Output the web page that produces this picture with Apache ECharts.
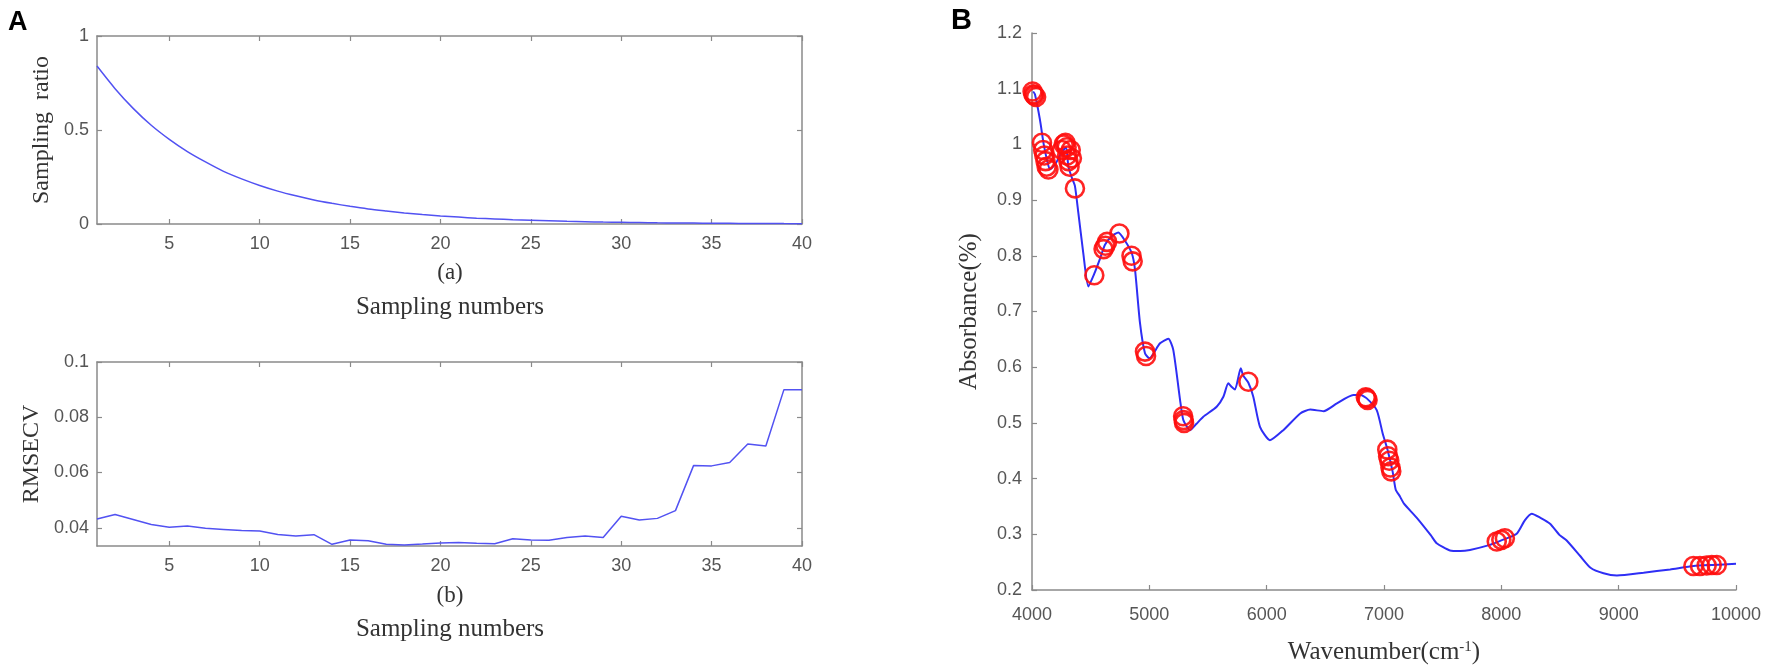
<!DOCTYPE html>
<html lang="en">
<head>
  <meta charset="UTF-8">
  <title>CARS sampling and selected wavenumbers</title>
  <style>
    html, body { margin: 0; padding: 0; background: #fff; }
    #main { width: 1772px; height: 672px; }
  </style>
  <script src="https://cdn.jsdelivr.net/npm/echarts@6/dist/echarts.min.js"></script>
</head>
<body>
<div id="main"></div>
<script>
  // panel A: sampling runs
  var samplingNumbers = [1, 2, 3, 4, 5, 6, 7, 8, 9, 10, 11, 12, 13, 14, 15, 16, 17, 18, 19, 20,
    21, 22, 23, 24, 25, 26, 27, 28, 29, 30, 31, 32, 33, 34, 35, 36, 37, 38, 39, 40];
  var samplingRatio = [0.84, 0.72, 0.615, 0.525, 0.45, 0.385, 0.33, 0.28, 0.24, 0.205,
    0.175, 0.15, 0.128, 0.11, 0.094, 0.08, 0.069, 0.059, 0.05, 0.043,
    0.037, 0.031, 0.027, 0.023, 0.02, 0.017, 0.014, 0.012, 0.01, 0.009,
    0.008, 0.0065, 0.0055, 0.0047, 0.004, 0.0034, 0.003, 0.0025, 0.0021, 0.0018];
  var rmsecv = [0.0432, 0.0448, 0.043, 0.0412, 0.0402, 0.0406, 0.0398, 0.0394, 0.039, 0.0388,
    0.0376, 0.037, 0.0375, 0.034, 0.0356, 0.0353, 0.034, 0.0338, 0.0341, 0.0345,
    0.0347, 0.0344, 0.0342, 0.036, 0.0356, 0.0355, 0.0365, 0.037, 0.0365, 0.0442,
    0.0428, 0.0434, 0.0462, 0.0625, 0.0624, 0.0636, 0.0703, 0.0696, 0.09, 0.09];
  var sampleTicks = [5, 10, 15, 20, 25, 30, 35, 40];
  var rmsecvTicks = [0.04, 0.06, 0.08, 0.1];

  // panel B: spectrum
  var wavenumber = [4010, 4025, 4068, 4100, 4130, 4153, 4200, 4250, 4290, 4310,
    4340, 4366, 4395, 4437, 4480, 4531, 4580, 4622, 4680, 4736,
    4790, 4850, 4878, 4920, 4963, 5000, 5091, 5162, 5204, 5262,
    5290, 5347, 5400, 5460, 5574, 5631, 5673, 5700, 5730, 5779,
    5800, 5844, 5886, 5943, 6028, 6142, 6286, 6371, 6485, 6599,
    6738, 6800, 6853, 6938, 6990, 7030, 7074, 7100, 7136, 7170,
    7278, 7400, 7449, 7562, 7650, 7733, 7903, 8000, 8131, 8200,
    8259, 8330, 8415, 8500, 8557, 8672, 8760, 8871, 8985, 9212,
    9439, 9637, 9800, 10000];
  var absorbance = [1.095, 1.09, 1.044, 1.0, 0.97, 0.955, 0.965, 0.985, 0.995, 0.96,
    0.94, 0.925, 0.877, 0.805, 0.745, 0.768, 0.795, 0.82, 0.835, 0.842,
    0.828, 0.805, 0.775, 0.68, 0.625, 0.616, 0.643, 0.651, 0.631, 0.541,
    0.505, 0.487, 0.498, 0.511, 0.529, 0.547, 0.571, 0.565, 0.56, 0.598,
    0.585, 0.572, 0.547, 0.493, 0.469, 0.487, 0.517, 0.524, 0.521, 0.535,
    0.55, 0.55, 0.544, 0.523, 0.48, 0.452, 0.412, 0.38, 0.368, 0.355,
    0.33, 0.298, 0.284, 0.271, 0.27, 0.272, 0.281, 0.289, 0.301, 0.325,
    0.337, 0.33, 0.319, 0.298, 0.289, 0.261, 0.24, 0.23, 0.226, 0.231,
    0.237, 0.243, 0.245, 0.247];
  // selected variables (red circles)
  var selWavenumber = [4005, 4012, 4020, 4035,
    4085, 4095, 4105, 4115, 4125, 4140,
    4255, 4270, 4285, 4295, 4300, 4310, 4320, 4330, 4340,
    4366, 4531, 4610, 4625, 4640, 4745, 4848, 4858, 4963, 4972,
    5288, 5292, 5296, 5844, 6845, 6853, 6860,
    7028, 7035, 7045, 7055, 7062, 7961, 8000, 8030,
    9637, 9693, 9750, 9793, 9836];
  var selAbsorbance = [1.095, 1.09, 1.088, 1.085,
    1.003, 0.99, 0.98, 0.97, 0.96, 0.955,
    0.99, 1.0, 1.003, 0.995, 0.98, 0.97, 0.96, 0.99, 0.975,
    0.921, 0.765, 0.812, 0.818, 0.825, 0.84, 0.8, 0.79, 0.628, 0.62,
    0.512, 0.505, 0.5, 0.574, 0.546, 0.544, 0.541,
    0.452, 0.44, 0.432, 0.42, 0.413, 0.287, 0.29, 0.293,
    0.243, 0.243, 0.244, 0.245, 0.245];

  function zip(xs, ys) {
    var out = [];
    for (var i = 0; i < xs.length; i++) out.push([xs[i], ys[i]]);
    return out;
  }

  var axisColor = '#8a8a8a';
  var tickFont = { color: '#555', fontSize: 18, fontFamily: 'Liberation Sans, Arial, sans-serif' };
  var serif = 'Liberation Serif, Times New Roman, serif';

  // bottom/left axis that carries labels
  function mainAxis(extra) {
    var a = {
      type: 'value',
      axisLine: { show: true, onZero: false, lineStyle: { color: axisColor, width: 1.5 } },
      axisTick: { show: true, inside: true, length: 5, lineStyle: { color: axisColor, width: 1.2 } },
      axisLabel: Object.assign({ margin: 10, formatter: function (v) { return String(v); } }, tickFont),
      splitLine: { show: false }
    };
    return echarts.util.merge(a, extra, true);
  }
  // mirrored axis for the box of panel A
  function mirrorAxis(extra) {
    var a = {
      type: 'value',
      axisLine: { show: true, onZero: false, lineStyle: { color: axisColor, width: 1.5 } },
      axisTick: { show: true, inside: true, length: 5, lineStyle: { color: axisColor, width: 1.2 } },
      axisLabel: { show: false },
      splitLine: { show: false }
    };
    return echarts.util.merge(a, extra, true);
  }

  var myChart = echarts.init(document.getElementById('main'));
  var option = {
    animation: false,
    grid: [
      { left: 97, right: 970, top: 36, height: 188, outerBoundsMode: 'none' },
      { left: 97, right: 970, top: 362, height: 184, outerBoundsMode: 'none' },
      { left: 1032, right: 36, top: 33, height: 557, outerBoundsMode: 'none' }
    ],
    xAxis: [
      mainAxis({ gridIndex: 0, position: 'bottom', min: 1, max: 40,
        axisTick: { customValues: sampleTicks }, axisLabel: { customValues: sampleTicks, margin: 11 } }),
      mirrorAxis({ gridIndex: 0, position: 'top', min: 1, max: 40, axisTick: { customValues: sampleTicks } }),
      mainAxis({ gridIndex: 1, position: 'bottom', min: 1, max: 40,
        axisTick: { customValues: sampleTicks }, axisLabel: { customValues: sampleTicks, margin: 11 } }),
      mirrorAxis({ gridIndex: 1, position: 'top', min: 1, max: 40, axisTick: { customValues: sampleTicks } }),
      mainAxis({ gridIndex: 2, position: 'bottom', min: 4000, max: 10000, interval: 1000,
        axisLabel: { margin: 16 },
        name: 'Wavenumber(cm{sup|-1})', nameLocation: 'middle', nameGap: 50,
        nameTextStyle: { color: '#333', fontSize: 25, fontFamily: serif,
          rich: { sup: { fontSize: 15, verticalAlign: 'top', padding: [0, 0, 10, 0], fontFamily: serif, color: '#333' } } } })
    ],
    yAxis: [
      mainAxis({ gridIndex: 0, position: 'left', min: 0, max: 1, interval: 0.5,
        axisLabel: { margin: 8 },
        name: 'Sampling  ratio', nameLocation: 'middle', nameGap: 43,
        nameTextStyle: { color: '#333', fontSize: 24, fontFamily: serif } }),
      mirrorAxis({ gridIndex: 0, position: 'right', min: 0, max: 1, interval: 0.5 }),
      mainAxis({ gridIndex: 1, position: 'left', min: 0.0334, max: 0.1,
        axisTick: { customValues: rmsecvTicks }, axisLabel: { customValues: rmsecvTicks, margin: 8 },
        name: 'RMSECV', nameLocation: 'middle', nameGap: 53,
        nameTextStyle: { color: '#333', fontSize: 24, fontFamily: serif } }),
      mirrorAxis({ gridIndex: 1, position: 'right', min: 0.0334, max: 0.1,
        axisTick: { customValues: rmsecvTicks } }),
      mainAxis({ gridIndex: 2, position: 'left', min: 0.2, max: 1.2, interval: 0.1,
        axisLabel: { margin: 10 },
        name: 'Absorbance(%)', nameLocation: 'middle', nameGap: 50,
        nameTextStyle: { color: '#333', fontSize: 25, fontFamily: serif } })
    ],
    graphic: [
      { type: 'text', x: 8, y: 9, style: { text: 'A', fontSize: 27, fontWeight: 'bold', fontFamily: 'Liberation Sans, Arial, sans-serif', fill: '#000' } },
      { type: 'text', x: 951, y: 6, style: { text: 'B', fontSize: 29, fontWeight: 'bold', fontFamily: 'Liberation Sans, Arial, sans-serif', fill: '#000' } },
      { type: 'text', x: 450, y: 273, style: { text: '(a)', fontSize: 23, fontFamily: serif, fill: '#333', align: 'center', verticalAlign: 'middle' } },
      { type: 'text', x: 450, y: 307, style: { text: 'Sampling numbers', fontSize: 25, fontFamily: serif, fill: '#333', align: 'center', verticalAlign: 'middle' } },
      { type: 'text', x: 450, y: 596, style: { text: '(b)', fontSize: 23, fontFamily: serif, fill: '#333', align: 'center', verticalAlign: 'middle' } },
      { type: 'text', x: 450, y: 629, style: { text: 'Sampling numbers', fontSize: 25, fontFamily: serif, fill: '#333', align: 'center', verticalAlign: 'middle' } }
    ],
    series: [
      {
        name: 'Sampling ratio', type: 'line', xAxisIndex: 0, yAxisIndex: 0,
        data: zip(samplingNumbers, samplingRatio), showSymbol: false, smooth: 0.3,
        lineStyle: { color: '#5252f2', width: 1.5 }
      },
      {
        name: 'RMSECV', type: 'line', xAxisIndex: 2, yAxisIndex: 2,
        data: zip(samplingNumbers, rmsecv), showSymbol: false,
        lineStyle: { color: '#5252f2', width: 1.5 }
      },
      {
        name: 'Spectrum', type: 'line', xAxisIndex: 4, yAxisIndex: 4,
        data: zip(wavenumber, absorbance), showSymbol: false, smooth: 0.2,
        lineStyle: { color: '#2e2ef5', width: 2 }, z: 2
      },
      {
        name: 'Selected', type: 'scatter', xAxisIndex: 4, yAxisIndex: 4,
        data: zip(selWavenumber, selAbsorbance), symbol: 'circle', symbolSize: 18,
        itemStyle: { color: 'rgba(0,0,0,0)', borderColor: '#ff0d0d', borderWidth: 2.6, opacity: 0.9 }, z: 3
      }
    ]
  };
  myChart.setOption(option);
</script>
</body>
</html>
